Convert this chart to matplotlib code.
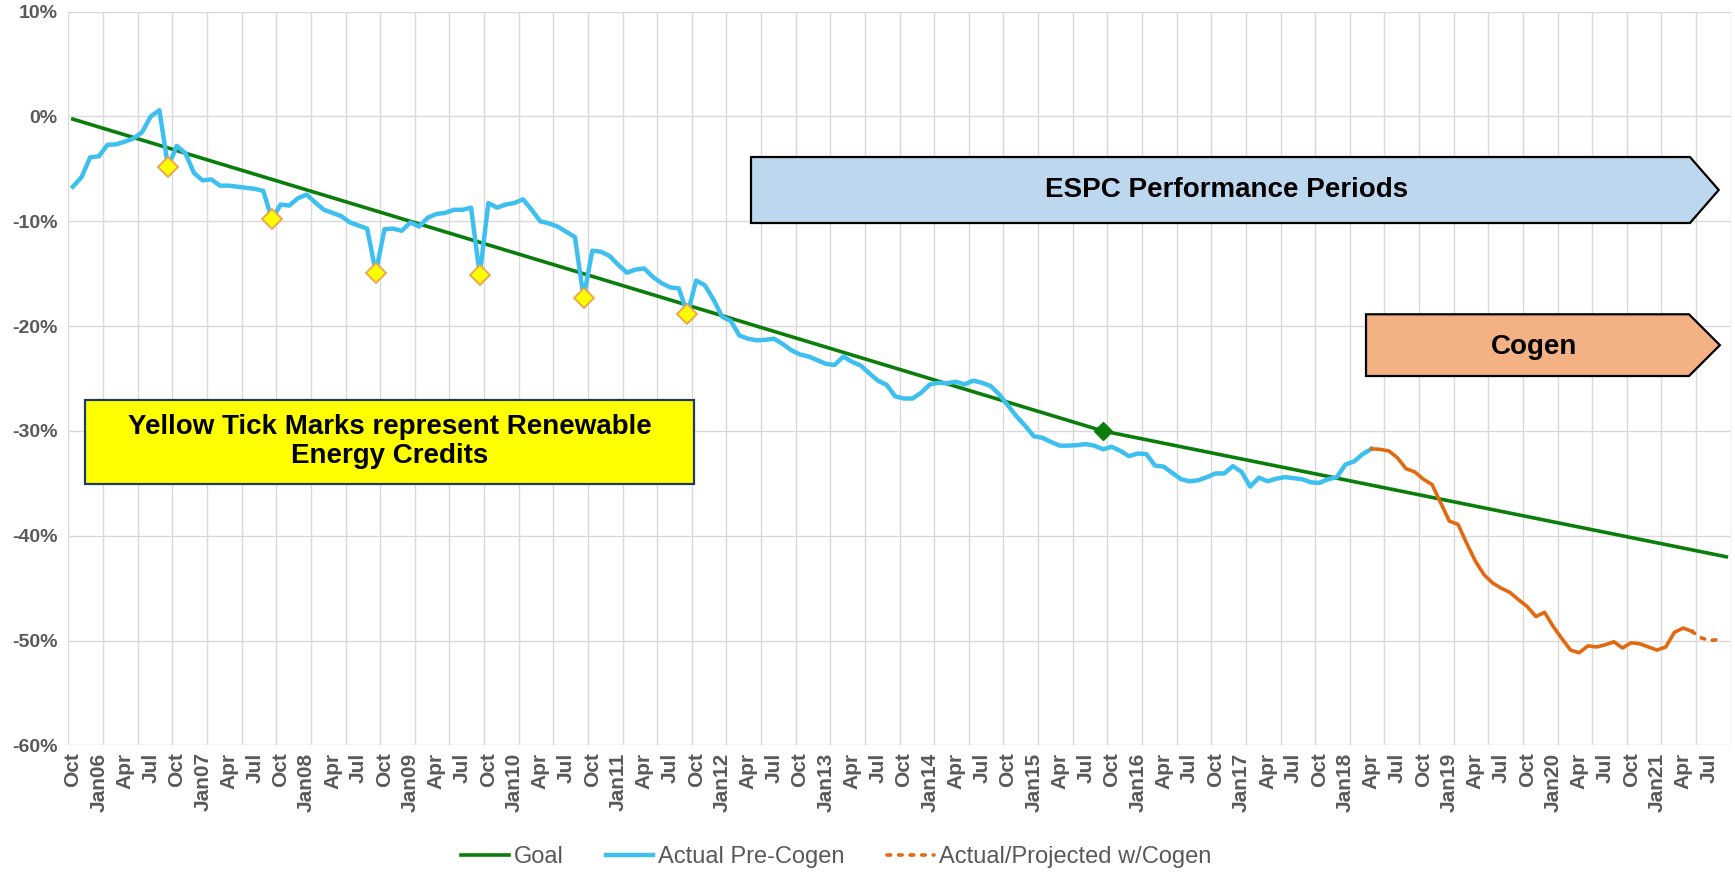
#!/usr/bin/env python3
"""Energy intensity reduction vs goal, FY2006-FY2021 (monthly, Oct 2005 .. Sep 2021)."""

import matplotlib
matplotlib.use("Agg")
import matplotlib.pyplot as plt
from matplotlib.lines import Line2D
from matplotlib.patches import Polygon, Rectangle

plt.rcParams["font.family"] = ["Liberation Sans", "DejaVu Sans"]

# month index 0 = Oct 2005, 191 = Sep 2021
n_months = 192

goal_months = [0, 119, 191]
goal_values = [-0.25, -30.0, -42.0]

# Actual Pre-Cogen, months 0..150
pre_cogen = [
    -6.7, -5.8, -3.9, -3.8, -2.7, -2.65, -2.4, -2.1, -1.5, 0.0, 0.6, -4.8,
    -2.8, -3.5, -5.4, -6.1, -6.0, -6.6, -6.6, -6.7, -6.8, -6.9, -7.1, -9.8,
    -8.4, -8.5, -7.8, -7.45, -8.2, -8.9, -9.2, -9.5, -10.1, -10.4, -10.7, -14.9,
    -10.75, -10.7, -10.9, -10.1, -10.5, -9.65, -9.3, -9.2, -8.9, -8.9, -8.7, -15.1,
    -8.25, -8.7, -8.4, -8.25, -7.9, -8.9, -10.0, -10.2, -10.5, -11.0, -11.5, -17.3,
    -12.8, -12.9, -13.3, -14.15, -14.9, -14.6, -14.5, -15.3, -15.9, -16.3, -16.4, -18.85,
    -15.65, -16.1, -17.45, -19.1, -19.5, -20.9, -21.2, -21.35, -21.3, -21.2, -21.7, -22.3,
    -22.7, -22.9, -23.25, -23.6, -23.7, -22.9, -23.4, -23.75, -24.5, -25.2, -25.6, -26.7,
    -26.9, -26.9, -26.35, -25.55, -25.4, -25.45, -25.3, -25.55, -25.2, -25.4, -25.7, -26.5,
    -27.55, -28.6, -29.5, -30.5, -30.65, -31.05, -31.4, -31.4, -31.35, -31.25, -31.4, -31.75,
    -31.5, -31.9, -32.4, -32.15, -32.2, -33.3, -33.4, -34.0, -34.6, -34.8, -34.7, -34.4,
    -34.05, -34.05, -33.35, -33.9, -35.3, -34.45, -34.8, -34.55, -34.4, -34.5, -34.6, -34.9,
    -34.95, -34.6, -34.4, -33.2, -32.9, -32.2, -31.7,
]
pre_cogen_start = 0

# Actual w/Cogen, months 150..187
cogen_actual = [
    -31.7, -31.75, -31.9, -32.55, -33.6, -33.9, -34.6, -35.1, -36.85, -38.6,
    -38.9, -40.7, -42.4, -43.7, -44.5, -45.0, -45.4, -46.1, -46.75, -47.7,
    -47.3, -48.65, -49.8, -50.9, -51.15, -50.5, -50.6, -50.4, -50.1, -50.7,
    -50.2, -50.3, -50.6, -50.9, -50.6, -49.2, -48.8, -49.1,
]
cogen_actual_start = 150

# Projected w/Cogen, months 187..190
cogen_proj = [-49.1, -49.7, -50.0, -49.9]
cogen_proj_start = 187

# Renewable Energy Credit points (each September)
rec_months = [11, 23, 35, 47, 59, 71]
rec_values = [-4.8, -9.8, -14.9, -15.1, -17.3, -18.85]

# goal milestone
goal_mark_month = 119
goal_mark_value = -30.0

tick_labels = ["Oct"]
for yy in range(6, 21):
    tick_labels += ["Jan%02d" % yy, "Apr", "Jul", "Oct"]
tick_labels += ["Jan21", "Apr", "Jul"]

y_ticks = [10, 0, -10, -20, -30, -40, -50, -60]

GREEN = "#0a7d0a"
BLUE = "#3dbff0"
ORANGE = "#e2690e"
GRID = "#d9d9d9"
TXT = "#595959"

fig = plt.figure(figsize=(17.35, 8.72), dpi=100)
ax = fig.add_axes([0.03948, 0.14507, 0.95804, 0.84157])

ax.set_xlim(-0.5, n_months - 0.5)
ax.set_ylim(-60, 10)

ax.set_xticks(range(0, 3 * len(tick_labels), 3))
ax.set_xticklabels(tick_labels, rotation=90, fontsize=15, fontweight="bold", color=TXT)
ax.set_xticks([k - 0.5 for k in range(0, n_months + 1, 4)], minor=True)
ax.set_yticks(y_ticks)
ax.set_yticklabels([f"{v}%" for v in y_ticks], fontsize=14, fontweight="bold", color=TXT)
ax.tick_params(axis="both", which="both", length=0)
ax.tick_params(axis="x", pad=5)
ax.tick_params(axis="y", pad=8)

ax.grid(True, axis="y", which="major", color=GRID, lw=1.0)
ax.grid(True, axis="x", which="minor", color=GRID, lw=1.0)
ax.grid(False, axis="x", which="major")
for s in ax.spines.values():
    s.set_visible(False)
ax.set_axisbelow(True)

ax.plot(goal_months, goal_values, color=GREEN, lw=2.6, zorder=3)
ax.plot([goal_mark_month], [goal_mark_value], marker="D", ms=9, color=GREEN, zorder=4)

x_pre = range(pre_cogen_start, pre_cogen_start + len(pre_cogen))
ax.plot(x_pre, pre_cogen, color=BLUE, lw=3.2, zorder=4, solid_joinstyle="round")

x_ca = range(cogen_actual_start, cogen_actual_start + len(cogen_actual))
ax.plot(x_ca, cogen_actual, color=ORANGE, lw=2.6, zorder=4, solid_joinstyle="round")
x_cp = range(cogen_proj_start, cogen_proj_start + len(cogen_proj))
ax.plot(x_cp, cogen_proj, color=ORANGE, lw=2.6, ls=(0, (1, 2.2)),
        dash_capstyle="round", zorder=4)

ax.plot(rec_months, rec_values, ls="none", marker="D", ms=10,
        mfc="#ffff00", mec="#f0a050", mew=1.3, zorder=5)

# annotation shapes (axes fraction)
espc = Polygon([(0.4106, 0.8019), (0.9755, 0.8019), (0.9928, 0.7570),
                (0.9755, 0.7120), (0.4106, 0.7120)], closed=True,
               transform=ax.transAxes, fc="#bdd7ee", ec="black", lw=1.6,
               clip_on=False, zorder=6)
ax.add_patch(espc)
ax.text(0.6967, 0.757, "ESPC Performance Periods", transform=ax.transAxes,
        ha="center", va="center", fontsize=20, fontweight="bold", zorder=7)

cogen = Polygon([(0.7806, 0.5876), (0.9749, 0.5876), (0.9935, 0.5455),
                 (0.9749, 0.5035), (0.7806, 0.5035)], closed=True,
                transform=ax.transAxes, fc="#f4b183", ec="black", lw=1.6,
                clip_on=False, zorder=6)
ax.add_patch(cogen)
ax.text(0.8817, 0.5434, "Cogen", transform=ax.transAxes,
        ha="center", va="center", fontsize=20, fontweight="bold", zorder=7)

ybox = Rectangle((0.0099, 0.3563), 0.3664, 0.1145, transform=ax.transAxes,
                 fc="#ffff00", ec="#1f3864", lw=1.6, clip_on=False, zorder=6)
ax.add_patch(ybox)
ax.text(0.1931, 0.4140, "Yellow Tick Marks represent Renewable\nEnergy Credits",
        transform=ax.transAxes, ha="center", va="center", fontsize=20,
        fontweight="bold", linespacing=1.15, zorder=7)

handles = [
    Line2D([], [], color=GREEN, lw=2.6),
    Line2D([], [], color=BLUE, lw=3.2),
    Line2D([], [], color=ORANGE, lw=2.6, ls=(0, (1, 2.2)), dash_capstyle="round"),
]
fig.legend(handles, ["Goal", "Actual Pre-Cogen", "Actual/Projected w/Cogen"],
           loc="center", bbox_to_anchor=(0.482, 0.017), ncol=3, frameon=False,
           fontsize=17, handlelength=2.0, handletextpad=0.2, columnspacing=1.8,
           labelcolor=TXT)

fig.savefig("out.png", dpi=100)
